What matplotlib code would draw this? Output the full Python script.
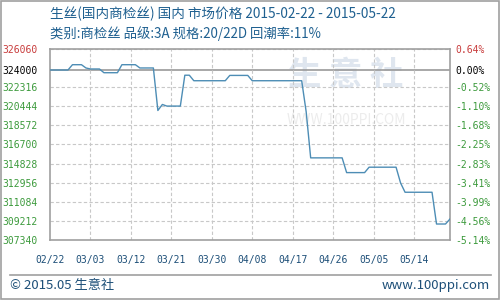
import matplotlib
matplotlib.use("Agg")
import matplotlib.pyplot as plt
from matplotlib.patches import Rectangle
from datetime import datetime, timedelta

plt.rcParams['font.family'] = ['Noto Sans CJK SC', 'DejaVu Sans']

# price points (where the line bends)
dates = ["2015-02-22", "2015-02-26", "2015-02-27", "2015-03-01", "2015-03-02",
         "2015-03-03", "2015-03-05", "2015-03-06", "2015-03-09", "2015-03-10",
         "2015-03-13", "2015-03-14", "2015-03-17", "2015-03-18", "2015-03-19",
         "2015-03-20", "2015-03-23", "2015-03-24", "2015-03-25", "2015-03-26",
         "2015-04-02", "2015-04-03", "2015-04-07", "2015-04-08", "2015-04-19",
         "2015-04-20", "2015-04-21", "2015-04-28", "2015-04-29", "2015-05-03",
         "2015-05-04", "2015-05-10", "2015-05-11", "2015-05-12", "2015-05-18",
         "2015-05-19", "2015-05-21", "2015-05-22"]
prices = [324000, 324000, 324520, 324520, 324200,
          324100, 324100, 323735, 323735, 324520,
          324520, 324200, 324200, 320033, 320622,
          320465, 320465, 323490, 323490, 322950,
          322950, 323470, 323470, 322950, 322950,
          319900, 315390, 315390, 313945, 313945,
          314475, 314475, 312933, 312020, 312020,
          308907, 308907, 309400]

base_price = 324000
y_ticks = [326060, 324000, 322316, 320444, 318572, 316700,
           314828, 312956, 311084, 309212, 307340]
pct_labels = ["0.64%", "0.00%", "-0.52%", "-1.10%", "-1.68%", "-2.25%",
              "-2.83%", "-3.41%", "-3.99%", "-4.56%", "-5.14%"]
x_tick_labels = ["02/22", "03/03", "03/12", "03/21", "03/30",
                 "04/08", "04/17", "04/26", "05/05", "05/14"]

title1 = "生丝(国内商检丝) 国内 市场价格 2015-02-22 - 2015-05-22"
title2 = "类别:商检丝 品级:3A 规格:20/22D 回潮率:11%"
footer = "© 2015.05 生意社"

x = [datetime.strptime(d, "%Y-%m-%d") for d in dates]
start = x[0]
end = x[-1]
x_ticks = [start + timedelta(days=9 * i) for i in range(len(x_tick_labels))]

fig = plt.figure(figsize=(5, 3), dpi=100)
fig.patches.append(Rectangle((0.002, 0.003), 0.995, 0.994, transform=fig.transFigure,
                             fill=False, edgecolor="#a0a0a0", linewidth=1.2))

ax = fig.add_axes([0.1, 0.2, 0.8, 0.6367])
ax.set_xlim(start, end)
ax.set_ylim(min(y_ticks), max(y_ticks))

# faint watermark
ax.text(0.74, 0.86, "生 意 社", transform=ax.transAxes, fontsize=24, color="#dfe6ef",
        ha="center", va="center", fontweight="bold", zorder=0)
ax.text(0.74, 0.63, "WWW.100PPI.COM", transform=ax.transAxes, fontsize=10,
        color="#ececec", ha="center", va="center", zorder=0)

grid_c = "#c8c8c8"
for v in y_ticks:
    if v == base_price:
        ax.axhline(v, color="#999999", linewidth=1.2, zorder=1)
    else:
        ax.axhline(v, color=grid_c, linewidth=0.8, linestyle=(0, (3, 2)), zorder=1)
for t in x_ticks[1:]:
    ax.axvline(t, color=grid_c, linewidth=0.8, linestyle=(0, (3, 2)), zorder=1)

ax.plot(x, prices, color="#4d8db5", linewidth=1.0, zorder=3)

for s in ax.spines.values():
    s.set_color("#a0a0a0")
    s.set_linewidth(1.2)

ax.set_yticks(y_ticks)
ax.set_yticklabels([str(v) for v in y_ticks], family="DejaVu Sans Mono", fontsize=7)
ax.tick_params(axis="y", length=0, pad=9)
label_colors = ["#c83c3c", "#000000"] + ["#3c9a3c"] * (len(y_ticks) - 2)
for lab, c in zip(ax.get_yticklabels(), label_colors):
    lab.set_color(c)

ax.set_xticks(x_ticks)
ax.set_xticklabels(x_tick_labels, family="DejaVu Sans Mono", fontsize=7, color="#1d4f78")
ax.tick_params(axis="x", length=0, pad=11)

ax2 = ax.twinx()
ax2.set_ylim(ax.get_ylim())
ax2.set_yticks(y_ticks)
ax2.set_yticklabels(pct_labels, family="DejaVu Sans Mono", fontsize=7)
ax2.tick_params(axis="y", length=0, pad=4)
for s in ax2.spines.values():
    s.set_visible(False)
for lab, c in zip(ax2.get_yticklabels(), label_colors):
    lab.set_color(c)

fig.text(0.1, 0.953, title1, fontsize=9.8, color="#1f6090", va="center", ha="left")
fig.text(0.1, 0.887, title2, fontsize=9.6, color="#1f6090", va="center", ha="left")

fig.add_artist(plt.Line2D([0.02, 0.982], [0.083, 0.083], transform=fig.transFigure,
                          color="#a0a0a0", linewidth=1.2))
fig.text(0.02, 0.047, footer, fontsize=9.5, color="#1d4f78", va="center", ha="left")
fig.text(0.98, 0.047, "www.100ppi.com", fontsize=9.5, color="#1d4f78", va="center", ha="right")

fig.savefig("out.png", dpi=100)
